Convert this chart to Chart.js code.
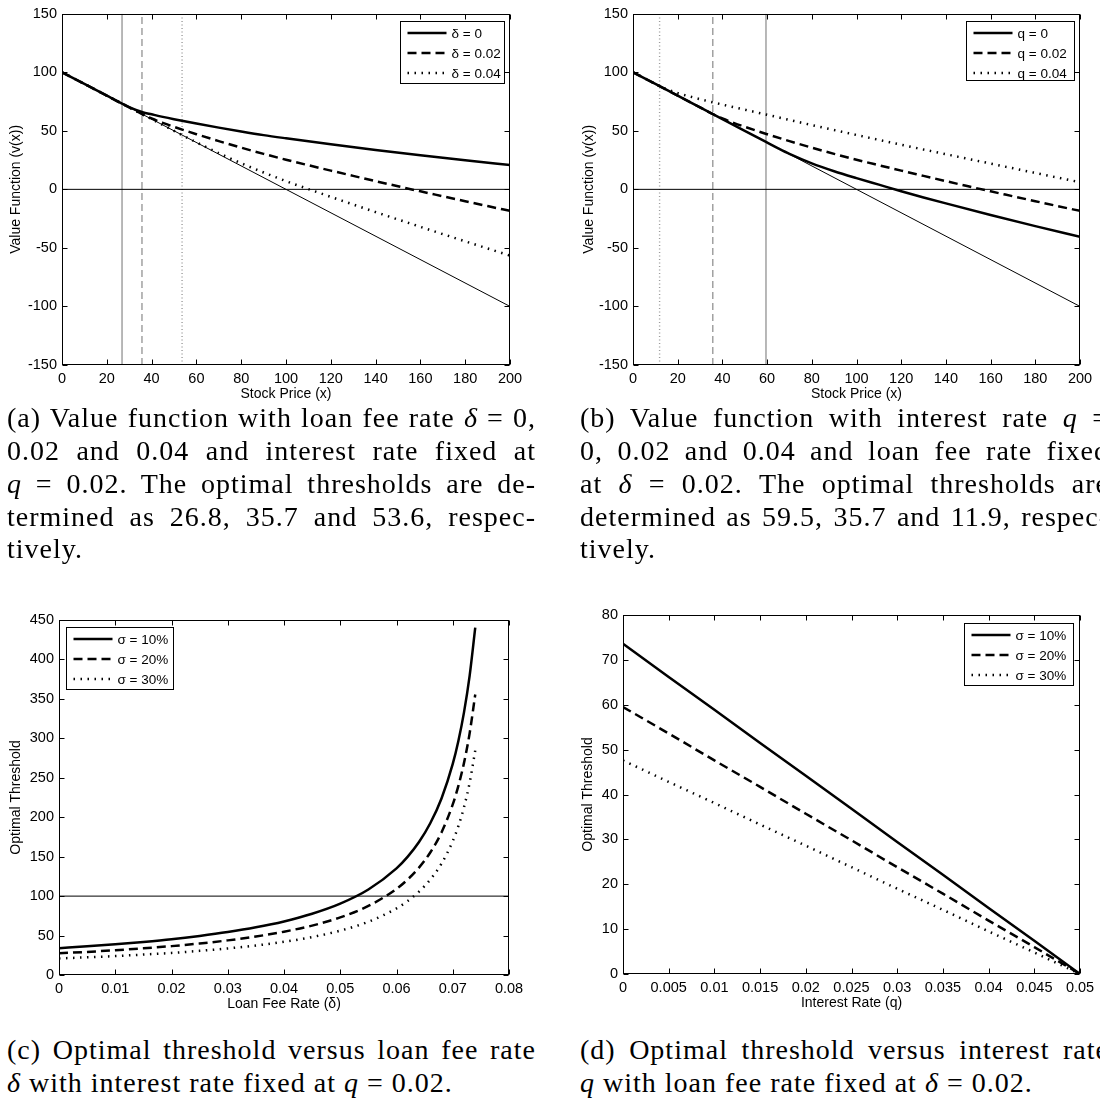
<!DOCTYPE html>
<html><head><meta charset="utf-8">
<script src="https://cdn.jsdelivr.net/npm/chart.js@4.4.1/dist/chart.umd.min.js"></script>
<style>
html,body{margin:0;padding:0;background:#fff;width:1100px;height:1101px;overflow:hidden;position:relative}
canvas{position:absolute}
.cap{position:absolute;width:529px;font-family:"Liberation Serif","Times New Roman",serif;font-size:28px;letter-spacing:1px;color:#000}
.cap div{position:absolute;left:0;width:529px;height:33px;line-height:33px;text-align:justify;text-align-last:justify;white-space:normal}
.cap div.last{text-align:left;text-align-last:left}
</style></head><body>
<canvas id="ca" width="550" height="403" style="left:0;top:0"></canvas>
<canvas id="cb" width="529" height="403" style="left:571px;top:0"></canvas>
<canvas id="cc" width="550" height="413" style="left:0;top:600px"></canvas>
<canvas id="cd" width="539" height="412" style="left:561px;top:600px"></canvas>

<div class="cap" style="left:7px;top:0">
<div style="top:401px">(a) Value function with loan fee rate <i>δ</i> = 0,</div>
<div style="top:434px">0.02 and 0.04 and interest rate fixed at</div>
<div style="top:467px"><i>q</i> = 0.02. The optimal thresholds are de-</div>
<div style="top:500px">termined as 26.8, 35.7 and 53.6, respec-</div>
<div class="last" style="top:532px">tively.</div>
<div style="top:1033px">(c) Optimal threshold versus loan fee rate</div>
<div class="last" style="top:1066px"><i>δ</i> with interest rate fixed at <i>q</i> = 0.02.</div>
</div>
<div class="cap" style="left:580px;top:0">
<div style="top:401px">(b) Value function with interest rate <i>q</i> =</div>
<div style="top:434px">0, 0.02 and 0.04 and loan fee rate fixed</div>
<div style="top:467px">at <i>δ</i> = 0.02. The optimal thresholds are</div>
<div style="top:500px">determined as 59.5, 35.7 and 11.9, respec-</div>
<div class="last" style="top:532px">tively.</div>
<div style="top:1033px">(d) Optimal threshold versus interest rate</div>
<div class="last" style="top:1066px"><i>q</i> with loan fee rate fixed at <i>δ</i> = 0.02.</div>
</div>

<script>
// ---------- Panel (a): value function, loan fee rate varies ----------
const aSolidX = [0, 10, 20, 26.8, 30, 33, 36, 40, 45, 50, 60, 70, 80, 90, 100, 120, 140, 160, 180, 200];
const aSolidY = [100, 90, 80, 73.2, 70.3, 67.9, 65.9, 64.1, 61.9, 59.9, 56.2, 52.7, 49.4, 46.3, 43.6, 38.5, 33.6, 29.1, 24.8, 20.7];
const aDashX = [0, 10, 20, 30, 35.7, 40, 45, 50, 60, 70, 80, 90, 100, 110, 120, 130, 140, 150, 160, 170, 180, 190, 200];
const aDashY = [100, 90, 80, 70, 64.3, 60.5, 56.8, 53.4, 47.1, 41.2, 35.6, 30.3, 25.3, 20.6, 16.0, 11.5, 7.0, 2.6, -1.7, -5.9, -10.1, -14.3, -18.4];
const aDotX = [0, 10, 20, 30, 40, 50, 53.6, 60, 70, 80, 90, 100, 110, 120, 140, 160, 180, 200];
const aDotY = [100, 90, 80, 70, 60, 50, 46.4, 40.2, 30.9, 22.3, 14.4, 7.0, 0.2, -6.4, -19.4, -32.0, -44.4, -56.6];
const aThresholds = [26.8, 35.7, 53.6];
const aLabels = ['δ = 0', 'δ = 0.02', 'δ = 0.04'];

// ---------- Panel (b): value function, interest rate varies ----------
const bSolidX = [0, 10, 20, 30, 40, 50, 59.5, 65, 70, 80, 90, 100, 110, 120, 130, 140, 160, 180, 200];
const bSolidY = [100, 90, 80, 70, 60, 50, 40.5, 35.0, 30.3, 22.2, 15.5, 9.6, 4.0, -1.6, -6.9, -12.0, -21.9, -31.4, -40.5];
const bDashX = [0, 10, 20, 30, 35.7, 40, 45, 50, 60, 70, 80, 90, 100, 110, 120, 130, 140, 150, 160, 170, 180, 190, 200];
const bDashY = [100, 90, 80, 70, 64.3, 60.5, 56.8, 53.4, 47.1, 41.2, 35.6, 30.3, 25.3, 20.6, 16.0, 11.5, 7.0, 2.6, -1.7, -5.9, -10.1, -14.3, -18.4];
const bDotX = [0, 10, 11.9, 15, 20, 25, 30, 35.7, 45, 60, 80, 100, 120, 140, 160, 180, 200];
const bDotY = [100, 90, 88.1, 85.5, 82.2, 79.5, 77.0, 74.3, 70.2, 63.7, 54.9, 46.4, 38.1, 30.0, 22.0, 14.0, 6.1];
const bThresholds = [59.5, 35.7, 11.9];
const bLabels = ['q = 0', 'q = 0.02', 'q = 0.04'];

// payoff line and zero line shared by (a) and (b)
const payoffX = [0, 200];
const payoffY = [100, -100];
const zeroX = [0, 200];
const zeroY = [0, 0];
const stockTicks = [0, 20, 40, 60, 80, 100, 120, 140, 160, 180, 200];
const valueTicks = [-150, -100, -50, 0, 50, 100, 150];

// ---------- Panel (c): threshold vs loan fee rate ----------
const cFee = [0, 0.005, 0.01, 0.015, 0.02, 0.025, 0.03, 0.035, 0.04, 0.045, 0.05, 0.055, 0.06, 0.062, 0.064, 0.066, 0.068, 0.07, 0.071, 0.072, 0.073, 0.074];
const cSig10 = [34.0, 36.3, 38.9, 41.9, 45.3, 49.5, 54.4, 60.4, 67.9, 77.6, 90.4, 108.3, 135.1, 150.0, 168.5, 192.3, 223.8, 267.6, 296.7, 332.9, 379.2, 440.3];
const cSig20 = [27.5, 29.3, 31.4, 33.8, 36.6, 39.9, 43.9, 48.8, 54.9, 62.6, 73.0, 87.5, 109.2, 121.2, 136.1, 155.3, 180.7, 216.2, 239.7, 268.9, 306.3, 355.6];
const cSig30 = [21.0, 22.4, 24.0, 25.9, 28.0, 30.6, 33.7, 37.4, 42.1, 48.1, 56.2, 67.5, 84.4, 93.9, 105.7, 120.9, 141.2, 169.7, 188.8, 212.7, 243.5, 284.7];
const cRefX = [0, 0.08];
const cRefY = [100, 100];
const cXTicks = [0, 0.01, 0.02, 0.03, 0.04, 0.05, 0.06, 0.07, 0.08];
const cXTickLabels = ['0', '0.01', '0.02', '0.03', '0.04', '0.05', '0.06', '0.07', '0.08'];
const cYTicks = [0, 50, 100, 150, 200, 250, 300, 350, 400, 450];

// ---------- Panel (d): threshold vs interest rate ----------
const dRate = [0, 0.005, 0.01, 0.015, 0.02, 0.025, 0.03, 0.035, 0.04, 0.045, 0.05];
const dSig10 = [73.6, 66.2, 58.9, 51.5, 44.2, 36.8, 29.4, 22.1, 14.7, 7.4, 0];
const dSig20 = [59.5, 53.6, 47.6, 41.7, 35.7, 29.8, 23.8, 17.9, 11.9, 6.0, 0];
const dSig30 = [47.6, 42.8, 38.1, 33.3, 28.6, 23.8, 19.0, 14.3, 9.5, 4.8, 0];
const dXTicks = [0, 0.005, 0.01, 0.015, 0.02, 0.025, 0.03, 0.035, 0.04, 0.045, 0.05];
const dXTickLabels = ['0', '0.005', '0.01', '0.015', '0.02', '0.025', '0.03', '0.035', '0.04', '0.045', '0.05'];
const dYTicks = [0, 10, 20, 30, 40, 50, 60, 70, 80];
const sigmaLabels = ['σ = 10%', 'σ = 20%', 'σ = 30%'];

// ---------- helpers ----------
const FONT = '"Liberation Sans", Arial, Helvetica, sans-serif';
const THICK = 2.5;
const STY = {
  solid: {borderWidth: THICK, borderDash: []},
  dash: {borderWidth: THICK, borderDash: [9, 5]},
  dot: {borderWidth: THICK, borderDash: [1.5, 5.5]}
};
function series(label, xs, ys, style, smooth) {
  return Object.assign({
    label: label,
    data: xs.map((x, i) => ({x: x, y: ys[i]})),
    borderColor: '#000', pointRadius: 0, fill: false,
    cubicInterpolationMode: smooth ? 'monotone' : 'default', tension: 0
  }, style);
}
function thin(xs, ys) { return series('', xs, ys, {borderWidth: 1, borderColor: '#000'}, false); }
function vline(xv, lo, hi, dash) {
  return series('', [xv, xv], [lo, hi], {borderWidth: 1.4, borderColor: '#9a9a9a', borderDash: dash}, false);
}

const framePlugin = {
  id: 'frame',
  afterDraw(chart, args, opts) {
    const ctx = chart.ctx, a = chart.chartArea, xs = chart.scales.x, ys = chart.scales.y;
    ctx.save();
    ctx.strokeStyle = '#000'; ctx.lineWidth = 1; ctx.setLineDash([]);
    const L = Math.round(a.left) + 0.5, R = Math.round(a.right) - 0.5, T = Math.round(a.top) + 0.5, B = Math.round(a.bottom) - 0.5;
    ctx.strokeRect(L, T, R - L, B - T);
    ctx.beginPath();
    xs.ticks.forEach(t => {
      const p = Math.round(xs.getPixelForValue(t.value)) + 0.5;
      ctx.moveTo(p, B); ctx.lineTo(p, B - 5);
      ctx.moveTo(p, T); ctx.lineTo(p, T + 5);
    });
    ys.ticks.forEach(t => {
      const p = Math.round(ys.getPixelForValue(t.value)) + 0.5;
      ctx.moveTo(L, p); ctx.lineTo(L + 5, p);
      ctx.moveTo(R, p); ctx.lineTo(R - 5, p);
    });
    ctx.stroke();
    const lg = opts.legend;
    if (lg) {
      const left = Math.round(lg.side === 'right' ? a.right - lg.dx - lg.w : a.left + lg.dx) + 0.5;
      const top = Math.round(a.top + lg.dy) + 0.5;
      ctx.fillStyle = '#fff';
      ctx.fillRect(left, top, lg.w, lg.h);
      ctx.strokeRect(left, top, lg.w, lg.h);
      ctx.font = '13.5px ' + FONT;
      ctx.textBaseline = 'middle'; ctx.textAlign = 'left';
      lg.items.forEach((di, i) => {
        const ds = chart.data.datasets[di];
        const y = top + 11.5 + i * 20;
        ctx.beginPath();
        ctx.lineWidth = ds.borderWidth; ctx.setLineDash(ds.borderDash || []);
        ctx.strokeStyle = '#000';
        ctx.moveTo(left + 7, y); ctx.lineTo(left + 46, y);
        ctx.stroke();
        ctx.setLineDash([]);
        ctx.fillStyle = '#000';
        ctx.fillText(ds.label, left + 51, y + 1);
      });
    }
    ctx.restore();
  }
};

function makeChart(id, c) {
  return new Chart(document.getElementById(id), {
    type: 'line',
    data: {datasets: c.datasets},
    plugins: [framePlugin],
    options: {
      responsive: false, animation: false, devicePixelRatio: 1,
      layout: {padding: {top: c.pad.top, right: c.pad.right, bottom: 0, left: 0}},
      plugins: {legend: {display: false}, tooltip: {enabled: false}, frame: {legend: c.legend}},
      scales: {
        x: {
          type: 'linear', min: c.xMin, max: c.xMax,
          afterBuildTicks: s => { s.ticks = c.xTicks.map(v => ({value: v})); },
          afterFit: s => { s.height = c.xH; },
          grid: {display: false, drawTicks: false}, border: {display: false},
          ticks: {autoSkip: false, maxRotation: 0, minRotation: 0, padding: 5, color: '#000',
            font: {family: FONT, size: 14.5},
            callback: (v, i) => c.xLabels[i]},
          title: {display: true, text: c.xTitle, color: '#000', font: {family: FONT, size: 14}, padding: {top: 0, bottom: 0}}
        },
        y: {
          type: 'linear', min: c.yMin, max: c.yMax,
          afterBuildTicks: s => { s.ticks = c.yTicks.map(v => ({value: v})); },
          afterFit: s => { s.width = c.yW; },
          grid: {display: false, drawTicks: false}, border: {display: false},
          ticks: {autoSkip: false, padding: 5, color: '#000', font: {family: FONT, size: 14.5},
            callback: (v, i) => String(c.yTicks[i])},
          title: {display: true, text: c.yTitle, color: '#000', font: {family: FONT, size: 14}, padding: {top: c.yTitlePad, bottom: 0}}
        }
      }
    }
  });
}

// (a)
makeChart('ca', {
  pad: {top: 12, right: 40}, yW: 62, xH: 38, yTitlePad: 8,
  xMin: 0, xMax: 200, yMin: -150, yMax: 150,
  xTicks: stockTicks, xLabels: stockTicks.map(String), yTicks: valueTicks,
  xTitle: 'Stock Price (x)', yTitle: 'Value Function (v(x))',
  legend: {side: 'right', dx: 6, dy: 7, w: 104, h: 62, items: [0, 1, 2]},
  datasets: [
    series(aLabels[0], aSolidX, aSolidY, STY.solid, true),
    series(aLabels[1], aDashX, aDashY, STY.dash, true),
    series(aLabels[2], aDotX, aDotY, STY.dot, true),
    thin(payoffX, payoffY), thin(zeroX, zeroY),
    vline(aThresholds[0], -150, 150, []),
    vline(aThresholds[1], -150, 150, [7, 4]),
    vline(aThresholds[2], -150, 150, [1, 2.5])
  ]
});
// (b)
makeChart('cb', {
  pad: {top: 12, right: 20}, yW: 62, xH: 38, yTitlePad: 9.5,
  xMin: 0, xMax: 200, yMin: -150, yMax: 150,
  xTicks: stockTicks, xLabels: stockTicks.map(String), yTicks: valueTicks,
  xTitle: 'Stock Price (x)', yTitle: 'Value Function (v(x))',
  legend: {side: 'right', dx: 6, dy: 7, w: 108, h: 59, items: [0, 1, 2]},
  datasets: [
    series(bLabels[0], bSolidX, bSolidY, STY.solid, true),
    series(bLabels[1], bDashX, bDashY, STY.dash, true),
    series(bLabels[2], bDotX, bDotY, STY.dot, true),
    thin(payoffX, payoffY), thin(zeroX, zeroY),
    vline(bThresholds[0], -150, 150, []),
    vline(bThresholds[1], -150, 150, [7, 4]),
    vline(bThresholds[2], -150, 150, [1, 2.5])
  ]
});
// (c)
makeChart('cc', {
  pad: {top: 20, right: 41}, yW: 59, xH: 38, yTitlePad: 8,
  xMin: 0, xMax: 0.08, yMin: 0, yMax: 450,
  xTicks: cXTicks, xLabels: cXTickLabels, yTicks: cYTicks,
  xTitle: 'Loan Fee Rate (δ)', yTitle: 'Optimal Threshold',
  legend: {side: 'left', dx: 7, dy: 7, w: 107, h: 62, items: [0, 1, 2]},
  datasets: [
    series(sigmaLabels[0], cFee, cSig10, STY.solid, true),
    series(sigmaLabels[1], cFee, cSig20, STY.dash, true),
    series(sigmaLabels[2], cFee, cSig30, STY.dot, true),
    thin(cRefX, cRefY)
  ]
});
// (d)
makeChart('cd', {
  pad: {top: 15, right: 20}, yW: 62, xH: 38, yTitlePad: 19,
  xMin: 0, xMax: 0.05, yMin: 0, yMax: 80,
  xTicks: dXTicks, xLabels: dXTickLabels, yTicks: dYTicks,
  xTitle: 'Interest Rate (q)', yTitle: 'Optimal Threshold',
  legend: {side: 'right', dx: 7, dy: 8, w: 109, h: 62, items: [0, 1, 2]},
  datasets: [
    series(sigmaLabels[0], dRate, dSig10, STY.solid, false),
    series(sigmaLabels[1], dRate, dSig20, STY.dash, false),
    series(sigmaLabels[2], dRate, dSig30, STY.dot, false)
  ]
});
</script>
</body></html>
